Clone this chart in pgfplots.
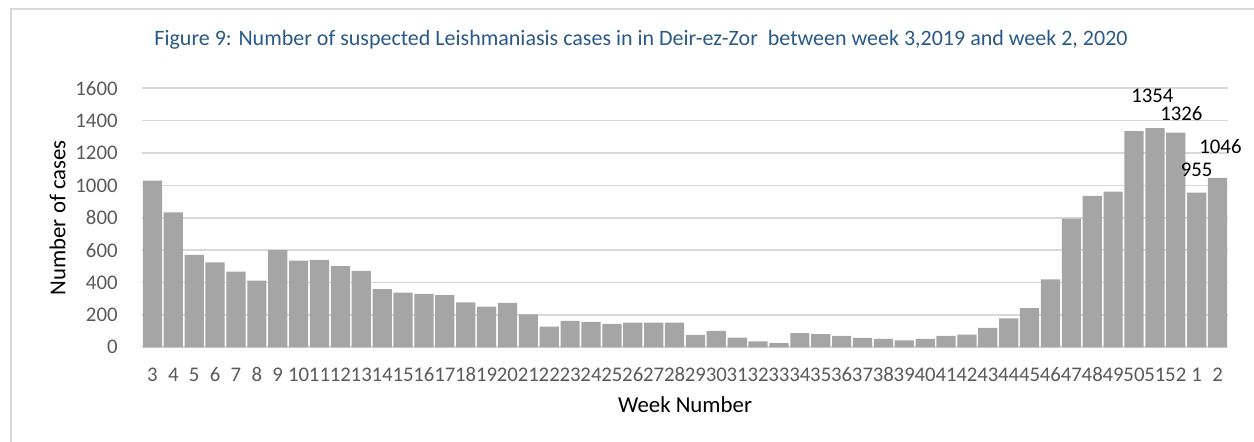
\documentclass[border=0pt]{standalone}
\usepackage{fontspec}
\setmainfont{Carlito}
\usepackage{pgfplots}
\usepackage{pgfplotstable}
\pgfplotsset{compat=1.18}
\definecolor{bargray}{HTML}{A5A5A5}
\definecolor{gridgray}{HTML}{D9D9D9}
\definecolor{ticktext}{HTML}{595959}
\definecolor{titleblue}{HTML}{295987}
\pgfplotstableread{
idx week cases
0 3 1029
1 4 833
2 5 571
3 6 524
4 7 468
5 8 412
6 9 600
7 10 536
8 11 540
9 12 501
10 13 472
11 14 359
12 15 338
13 16 330
14 17 322
15 18 278
16 19 251
17 20 274
18 21 204
19 22 128
20 23 163
21 24 157
22 25 144
23 26 152
24 27 152
25 28 152
26 29 76
27 30 101
28 31 60
29 32 37
30 33 25
31 34 88
32 35 82
33 36 70
34 37 58
35 38 52
36 39 43
37 40 52
38 41 70
39 42 79
40 43 120
41 44 178
42 45 242
43 46 420
44 47 795
45 48 936
46 49 961
47 50 1335
48 51 1354
49 52 1326
50 1 955
51 2 1046
}\datatable
\begin{document}
\begin{tikzpicture}[x=1pt,y=1pt]
\useasboundingbox (0,0) rectangle (627,221);
\draw[gridgray, line width=1pt] (5.5,0) -- (5.5,216.5) -- (627,216.5);
\node[text=titleblue, font=\fontsize{11}{13}\selectfont] at (320.5,201) {Figure 9: Number of suspected Leishmaniasis cases in in Deir-ez-Zor\ \ between week 3,2019 and week 2, 2020};
\begin{axis}[
  at={(71pt,47.35pt)}, anchor=south west,
  scale only axis, width=543pt, height=129.5pt,
  xmin=-0.5, xmax=51.5, ymin=0, ymax=1600,
  ytick={0,200,...,1600},
  xtick=data,
  xticklabels from table={\datatable}{week},
  ymajorgrids, grid style={gridgray, line width=0.8pt},
  axis x line*=bottom, axis y line*=left,
  separate axis lines,
  x axis line style={gridgray, line width=1pt, -},
  y axis line style={draw=none},
  major tick length=0pt,
  tick style={draw=none},
  /pgf/number format/assume math mode=true,
  /pgf/number format/1000 sep={},
  yticklabel style={font=\fontsize{10.4}{12}\selectfont, text=ticktext, anchor=east, inner sep=0pt, xshift=-12pt},
  xticklabel style={font=\fontsize{10.4}{12}\selectfont, text=ticktext, anchor=north, inner sep=0pt, yshift=-10pt},
  xlabel={Week Number},
  ylabel={Number of cases},
  xlabel style={at={(axis description cs:0.5,-0.22)}, anchor=center, font=\fontsize{11.4}{13}\selectfont},
  ylabel style={at={(axis description cs:-0.0778,0.5)}, anchor=center, font=\fontsize{11.4}{13}\selectfont},
  clip=false,
]
\addplot[ybar, bar width=0.92, fill=bargray, draw=none] table[x=idx, y=cases] {\datatable};
\node[font=\fontsize{10.4}{12}\selectfont] at (axis cs:47.88,1553) {1354};
\node[font=\fontsize{10.4}{12}\selectfont] at (axis cs:49.27,1441) {1326};
\node[font=\fontsize{10.4}{12}\selectfont] at (axis cs:50.0,1095) {955};
\node[font=\fontsize{10.4}{12}\selectfont] at (axis cs:51.14,1240) {1046};
\end{axis}
\end{tikzpicture}
\end{document}
